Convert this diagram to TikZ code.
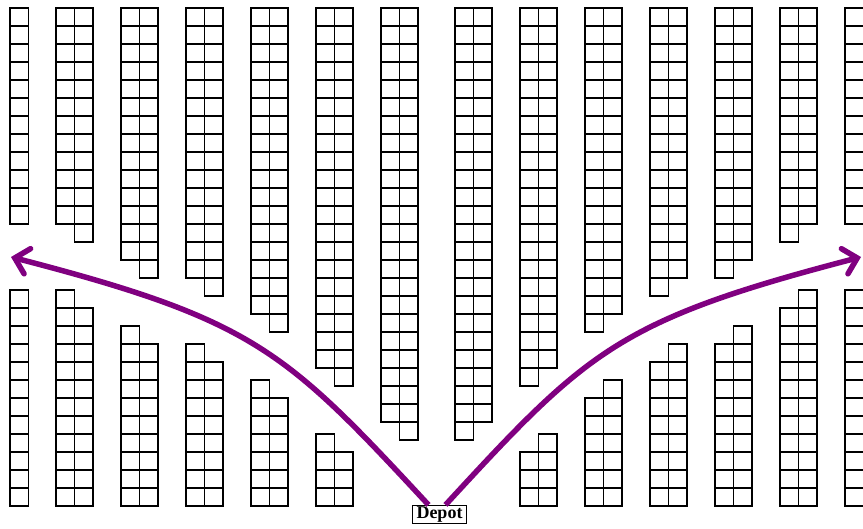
\documentclass[tikz,border=0pt]{standalone}
\usepackage{fontspec}
\setmainfont{Liberation Serif}
\usetikzlibrary{arrows.meta,calc}
\definecolor{routepurple}{HTML}{800080}
\tikzset{
  cell/.style={draw=black, line width=1.9pt},
  route/.style={draw=routepurple, line width=5.5pt,
    -{Straight Barb[length=13pt,width=26pt,line cap=round]}},
  depotbox/.style={draw=black, line width=1.2pt, fill=white,
    font=\bfseries\fontsize{18}{18}\selectfont,
    inner xsep=4pt, inner ysep=1.2pt, text height=12pt, text depth=3.6pt}
}
\newcommand\topstack[2]{\ifnum#2>0 \foreach \i in {1,...,#2}{\draw[cell] (#1,{8+18*(\i-1)}) rectangle ++(18.5,18);}\fi}
\newcommand\botstack[2]{\ifnum#2>0 \foreach \i in {1,...,#2}{\draw[cell] (#1,{506-18*\i}) rectangle ++(18.5,18);}\fi}
\begin{document}
\begin{tikzpicture}[x=1pt,y=-1pt]
\useasboundingbox (0,0) rectangle (863,529);
\clip (0,0) rectangle (863,529);
% storage racks: x of left edge / top-left count / top-right count / bottom-left count / bottom-right count
\foreach \x/\a/\b/\c/\d in {-8.5/0/12/0/12, 56/12/13/12/11, 121/14/15/10/9, 186/15/16/9/8,
    251/17/18/7/6, 316/20/21/4/3, 381/23/24/0/0, 455/24/23/0/0, 520/21/20/3/4,
    585/18/17/6/7, 650/16/15/8/9, 715/15/14/9/10, 780/13/12/11/12, 845/12/0/12/0}{
  \topstack{\x}{\a}
  \topstack{\x+18.5}{\b}
  \botstack{\x}{\c}
  \botstack{\x+18.5}{\d}
}
% depot and routes
\node[depotbox] (depot) at (439.5,514.5) {Depot};
\coordinate (ls) at ($(depot.north)+(-11,0)$);
\coordinate (rs) at ($(depot.north)+(6,0)$);
\coordinate (lefttip) at (11,257);
\coordinate (righttip) at (861,257);
\draw[route] (ls) .. controls (285,350) and (254,320) .. (lefttip);
\draw[route] (rs) .. controls (588,350) and (619,320) .. (righttip);
\end{tikzpicture}
\end{document}
